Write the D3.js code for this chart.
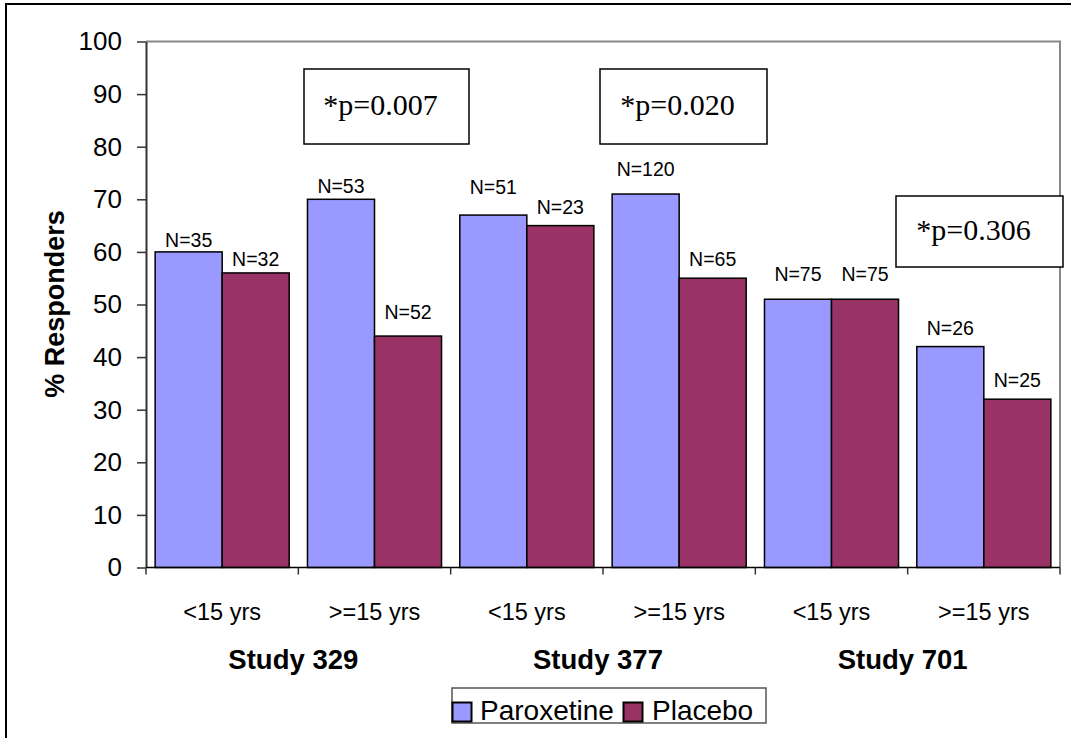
<!DOCTYPE html>
<html>
<head>
<meta charset="utf-8">
<script src="https://cdn.jsdelivr.net/npm/d3@7"></script>
<style>
  html, body { margin: 0; padding: 0; background: #fff; }
  svg { display: block; }
</style>
</head>
<body>
<svg id="chart" width="1071" height="738"></svg>
<script>
// Responder rates by study and age group
const studies = ["Study 329", "Study 377", "Study 701"];
const categories = ["<15 yrs", ">=15 yrs", "<15 yrs", ">=15 yrs", "<15 yrs", ">=15 yrs"];
const seriesNames = ["Paroxetine", "Placebo"];
const paroxetine = [60, 70, 67, 71, 51, 42];
const placebo = [56, 44, 65, 55, 51, 32];
const paroxetineN = ["N=35", "N=53", "N=51", "N=120", "N=75", "N=26"];
const placeboN = ["N=32", "N=52", "N=23", "N=65", "N=75", "N=25"];
const pValues = ["*p=0.007", "*p=0.020", "*p=0.306"];
const yTicks = [0, 10, 20, 30, 40, 50, 60, 70, 80, 90, 100];

const colors = { Paroxetine: "#9999FF", Placebo: "#993366" };
const sans = "Liberation Sans, Arial, sans-serif";
const serif = "Liberation Serif, Times New Roman, serif";

const svg = d3.select("#chart");

// outer frame
svg.append("rect")
  .attr("x", 6).attr("y", 4)
  .attr("width", 1100).attr("height", 800)
  .attr("fill", "none").attr("stroke", "#000").attr("stroke-width", 2);

const plot = { left: 146, right: 1060, top: 41.5, bottom: 567.5 };

const x = d3.scaleBand()
  .domain(d3.range(categories.length))
  .range([plot.left, plot.right])
  .paddingInner(0.12)
  .paddingOuter(0.06);

const xSeries = d3.scaleBand()
  .domain(seriesNames)
  .range([0, x.bandwidth()]);

const y = d3.scaleLinear().domain([0, 100]).range([plot.bottom, plot.top]);

// plot area frame (top and right edges)
svg.append("path")
  .attr("d", `M${plot.left},${plot.top}H${plot.right}V${plot.bottom}`)
  .attr("fill", "none").attr("stroke", "#888").attr("stroke-width", 2);

// bars
const rows = categories.map((c, i) => ({
  i,
  values: [
    { s: "Paroxetine", v: paroxetine[i], n: paroxetineN[i] },
    { s: "Placebo", v: placebo[i], n: placeboN[i] }
  ]
}));

// vertical gap between each count label's baseline and its bar top
const labelLift = [[5, 7], [6, 17], [21, 12], [18, 12], [18, 18], [12, 12]];

const groups = svg.selectAll("g.cat").data(rows).enter().append("g")
  .attr("class", "cat")
  .attr("transform", d => `translate(${x(d.i)},0)`);

groups.selectAll("rect").data(d => d.values).enter().append("rect")
  .attr("x", d => xSeries(d.s))
  .attr("y", d => y(d.v))
  .attr("width", xSeries.bandwidth())
  .attr("height", d => y(0) - y(d.v))
  .attr("fill", d => colors[d.s])
  .attr("stroke", "#000").attr("stroke-width", 1.5);

groups.each(function (d) {
  d3.select(this).selectAll("text.n").data(d.values).enter().append("text")
    .attr("class", "n")
    .attr("x", v => xSeries(v.s) + xSeries.bandwidth() / 2)
    .attr("y", (v, j) => y(v.v) - labelLift[d.i][j])
    .attr("text-anchor", "middle")
    .attr("font-family", sans)
    .attr("font-size", 19.5)
    .text(v => v.n);
});

// y axis
const yAxis = d3.axisLeft(y).tickValues(yTicks).tickSize(9).tickPadding(15).tickSizeOuter(0);
const gy = svg.append("g").attr("transform", `translate(${plot.left},0)`).call(yAxis);
gy.select(".domain").attr("stroke", "#333").attr("stroke-width", 2);
gy.selectAll(".tick line").attr("stroke", "#333").attr("stroke-width", 1.5);
gy.selectAll(".tick text")
  .attr("font-family", sans)
  .attr("font-size", 26).attr("fill", "#000");

// x axis baseline with category dividers
const gx = svg.append("g");
gx.append("line")
  .attr("x1", plot.left).attr("x2", plot.right)
  .attr("y1", plot.bottom).attr("y2", plot.bottom)
  .attr("stroke", "#000").attr("stroke-width", 1.5);
const catWidth = (plot.right - plot.left) / categories.length;
gx.selectAll("line.div").data(d3.range(categories.length + 1)).enter().append("line")
  .attr("class", "div")
  .attr("x1", i => plot.left + i * catWidth)
  .attr("x2", i => plot.left + i * catWidth)
  .attr("y1", plot.bottom).attr("y2", plot.bottom + 7)
  .attr("stroke", "#333").attr("stroke-width", 1.5);

// category labels
gx.selectAll("text.cat").data(categories).enter().append("text")
  .attr("class", "cat")
  .attr("x", (c, i) => x(i) + x.bandwidth() / 2)
  .attr("y", 620)
  .attr("text-anchor", "middle")
  .attr("font-family", sans)
  .attr("font-size", 23.5)
  .text(c => c);

// study labels centred under each pair of categories
gx.selectAll("text.study").data(studies).enter().append("text")
  .attr("class", "study")
  .attr("x", (s, i) => plot.left + catWidth * (2 * i + 1) - 5)
  .attr("y", 669)
  .attr("text-anchor", "middle")
  .attr("font-family", sans)
  .attr("font-weight", "bold")
  .attr("font-size", 27.5)
  .text(s => s);

// y axis title
svg.append("text")
  .attr("transform", "translate(64,304) rotate(-90)")
  .attr("text-anchor", "middle")
  .attr("font-family", sans)
  .attr("font-weight", "bold")
  .attr("font-size", 27)
  .text("% Responders");

// p-value boxes
const pBoxes = [
  { x: 304, y: 69, w: 165, h: 75 },
  { x: 600, y: 69, w: 167, h: 75 },
  { x: 896, y: 196, w: 167, h: 71 }
];
pBoxes.forEach((b, i) => {
  svg.append("rect")
    .attr("x", b.x).attr("y", b.y).attr("width", b.w).attr("height", b.h)
    .attr("fill", "#fff").attr("stroke", "#000").attr("stroke-width", 1.5);
  svg.append("text")
    .attr("x", b.x + b.w / 2 - 6).attr("y", b.y + b.h / 2 + 8)
    .attr("text-anchor", "middle")
    .attr("font-family", serif)
    .attr("font-size", 30)
    .text(pValues[i]);
});

// legend
const legend = svg.append("g");
legend.append("rect")
  .attr("x", 452).attr("y", 688).attr("width", 314).attr("height", 35)
  .attr("fill", "#fff").attr("stroke", "#555").attr("stroke-width", 1.5);
const legendItems = [
  { s: seriesNames[0], sx: 452.5, tx: 480 },
  { s: seriesNames[1], sx: 623.5, tx: 652 }
];
legendItems.forEach(it => {
  legend.append("rect")
    .attr("x", it.sx).attr("y", 702.5).attr("width", 19).attr("height", 19)
    .attr("fill", colors[it.s]).attr("stroke", "#000").attr("stroke-width", 2);
  legend.append("text")
    .attr("x", it.tx).attr("y", 720)
    .attr("font-family", sans)
    .attr("font-size", 28)
    .text(it.s);
});
</script>
</body>
</html>
